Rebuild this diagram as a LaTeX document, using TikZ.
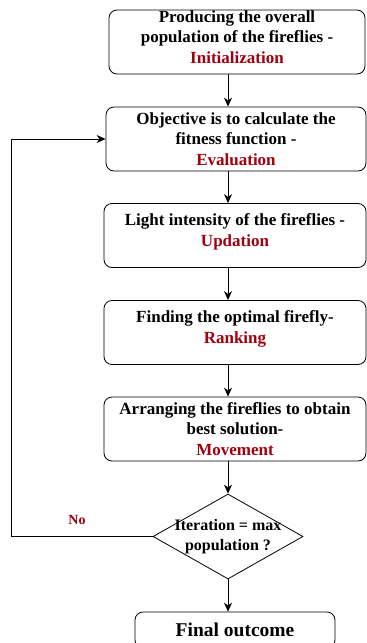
\documentclass[tikz,border=0pt]{standalone}
\usepackage{fontspec}
\setmainfont{Liberation Serif}
\usetikzlibrary{shapes.geometric,arrows.meta}
\definecolor{stagered}{RGB}{160,0,16}
\tikzset{
  stepbox/.style={draw, line width=0.8pt, rounded corners=8pt, minimum width=262pt,
    minimum height=64pt, inner sep=0pt, align=center,
    font=\bfseries\fontsize{17}{20.5}\selectfont},
  decision/.style={draw, line width=0.8pt, diamond, shape aspect=1.76,
    minimum width=150pt, minimum height=85pt, inner sep=0pt},
  flow/.style={-{Stealth[length=9pt,width=8pt]}, line width=0.8pt}
}
\begin{document}
\begin{tikzpicture}[x=1pt,y=-1pt]
  \useasboundingbox (0,0) rectangle (367,643);
  % steps of the algorithm
  \node[stepbox, minimum width=256pt] (init) at (237,42)
    {Producing the overall\\population of the fireflies -\\\textcolor{stagered}{Initialization}\\[-10pt]};
  \node[stepbox, minimum width=260pt] (eval) at (236,139)
    {Objective is to calculate the\\fitness function -\\\textcolor{stagered}{Evaluation}};
  \node[stepbox] (upd) at (235,235.5)
    {Light intensity of the fireflies -\\\textcolor{stagered}{Updation}\\[-10pt]};
  \node[stepbox] (rank) at (235,332.5)
    {Finding the optimal firefly-\\\textcolor{stagered}{Ranking}\\[-10pt]};
  \node[stepbox] (move) at (235,429)
    {Arranging the fireflies to obtain\\best solution-\\\textcolor{stagered}{Movement}};
  \node[decision] (iter) at (228,536.5) {};
  \node[align=center, font=\bfseries\fontsize{16}{19.5}\selectfont] (itertext) at (iter)
    {Iteration = max\\population ?};
  \node[stepbox, minimum width=200pt, minimum height=36pt,
    font=\bfseries\fontsize{19.5}{22}\selectfont] (final) at (235,630) {Final outcome};
  \node[text=stagered, font=\bfseries\fontsize{14}{15}\selectfont] (no) at (77,520) {No};
  % connectors
  \foreach \a/\b in {init/eval,eval/upd,upd/rank,rank/move}{
    \draw[flow] (\a.south -| iter.north) -- (\b.north -| iter.north);
  }
  \draw[flow] (move.south -| iter.north) -- (iter.north);
  \draw[flow] (iter.south) -- (final.north -| iter.south);
  \draw[flow] (iter.west) -- ++(-141,0) |- (eval.west);
\end{tikzpicture}
\end{document}
